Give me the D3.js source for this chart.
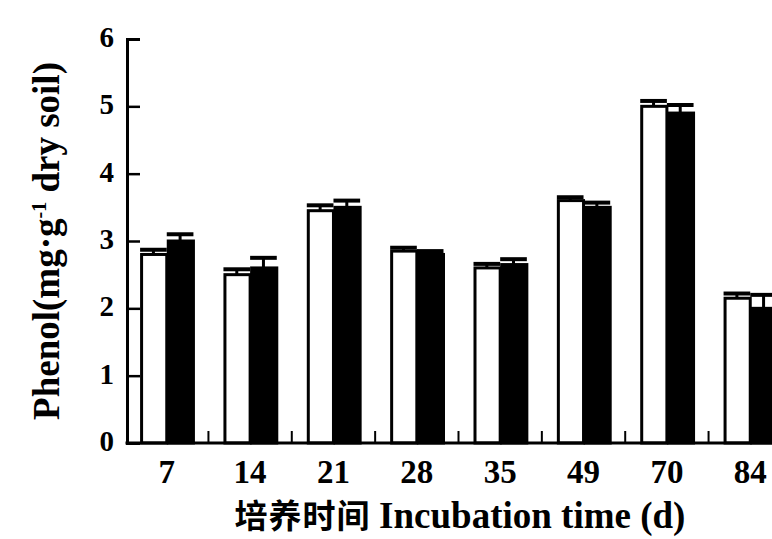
<!DOCTYPE html>
<html>
<head>
<meta charset="utf-8">
<script src="https://cdn.jsdelivr.net/npm/d3@7"></script>
<style>
  body { margin: 0; background: #fff; }
  svg text { font-family: 'Liberation Serif', 'DejaVu Serif', serif; font-weight: bold; fill: #000; }
</style>
</head>
<body>
<svg id="graph"></svg>
<script>
const days = ['7', '14', '21', '28', '35', '49', '70', '84']
const series = ['open', 'filled']
const openValues = [2.8, 2.5, 3.45, 2.85, 2.6, 3.6, 5.0, 2.15]
const openErrors = [0.07, 0.08, 0.08, 0.05, 0.06, 0.05, 0.08, 0.07]
const filledValues = [3.0, 2.6, 3.5, 2.8, 2.65, 3.5, 4.9, 2.0]
const filledErrors = [0.1, 0.15, 0.1, 0.05, 0.08, 0.07, 0.12, 0.2]
const yTicks = [0, 1, 2, 3, 4, 5, 6]

document.addEventListener('DOMContentLoaded', function () {
  const width = 772
  const height = 539
  const left = 127
  const top = 39
  const bottom = 443

  const svg = d3.select('#graph')
    .attr('width', width)
    .attr('height', height)

  const y = d3.scaleLinear().domain([0, 6]).range([bottom, top])

  const x = d3.scaleBand()
    .domain(days)
    .range([left, 790])
    .paddingInner(0.36)
    .paddingOuter(0.157)

  const xs = d3.scaleBand()
    .domain(series)
    .range([0, x.bandwidth()])

  const rows = days.map((d, i) => ({
    day: d,
    bars: [
      { key: 'open', value: openValues[i], err: openErrors[i] },
      { key: 'filled', value: filledValues[i], err: filledErrors[i] }
    ]
  }))

  const groups = svg.append('g')
    .selectAll('g')
    .data(rows)
    .enter()
    .append('g')
    .attr('transform', d => 'translate(' + x(d.day) + ',0)')

  // error bars first, the bars sit over the stem
  groups.selectAll('line.stem')
    .data(d => d.bars)
    .enter()
    .append('line')
    .attr('x1', d => xs(d.key) + xs.bandwidth() / 2)
    .attr('x2', d => xs(d.key) + xs.bandwidth() / 2)
    .attr('y1', d => y(d.value))
    .attr('y2', d => y(d.value + d.err))
    .attr('stroke', '#000')
    .attr('stroke-width', 3)

  groups.selectAll('line.cap')
    .data(d => d.bars)
    .enter()
    .append('line')
    .attr('x1', d => xs(d.key))
    .attr('x2', d => xs(d.key) + xs.bandwidth())
    .attr('y1', d => y(d.value + d.err))
    .attr('y2', d => y(d.value + d.err))
    .attr('stroke', '#000')
    .attr('stroke-width', 4)

  groups.selectAll('rect')
    .data(d => d.bars)
    .enter()
    .append('rect')
    .attr('x', d => xs(d.key) + 1.5)
    .attr('width', xs.bandwidth() - 1.5)
    .attr('y', d => y(d.value))
    .attr('height', d => y(0) - y(d.value))
    .attr('fill', d => d.key === 'open' ? '#fff' : '#000')
    .attr('stroke', '#000')
    .attr('stroke-width', 3)

  // small marks on the baseline between the groups
  svg.append('g')
    .selectAll('line')
    .data(days.slice(1))
    .enter()
    .append('line')
    .attr('x1', d => x(d) - x.step() * x.paddingInner() / 2)
    .attr('x2', d => x(d) - x.step() * x.paddingInner() / 2)
    .attr('y1', y(0))
    .attr('y2', y(0) - 12)
    .attr('stroke', '#000')
    .attr('stroke-width', 2)

  // y axis, ticks inward
  const yAxis = svg.append('g')
    .attr('transform', 'translate(' + left + ',0)')
    .call(d3.axisRight(y).tickValues(yTicks).tickSize(13).tickFormat(''))
  yAxis.select('.domain').attr('stroke-width', 3)
  yAxis.selectAll('.tick line').attr('stroke-width', 2.5)

  svg.append('g')
    .selectAll('text')
    .data(yTicks)
    .enter()
    .append('text')
    .attr('x', left - 13)
    .attr('y', d => y(d) + 8)
    .attr('text-anchor', 'end')
    .style('font-size', '29px')
    .text(d => d)

  // x axis line
  svg.append('line')
    .attr('x1', left - 1.5)
    .attr('x2', width)
    .attr('y1', y(0))
    .attr('y2', y(0))
    .attr('stroke', '#000')
    .attr('stroke-width', 3)

  svg.append('g')
    .selectAll('text')
    .data(days)
    .enter()
    .append('text')
    .attr('x', d => x(d) + x.bandwidth() / 2)
    .attr('y', bottom + 40)
    .attr('text-anchor', 'middle')
    .style('font-size', '33px')
    .text(d => d)

  const xTitle = svg.append('text')
    .attr('x', 460)
    .attr('y', 528)
    .attr('text-anchor', 'middle')
    .style('font-size', '37px')
  xTitle.append('tspan')
    .style('font-family', "'Noto Sans CJK SC', sans-serif")
    .style('font-size', '33px')
    .style('letter-spacing', '1px')
    .text('培养时间 ')
  xTitle.append('tspan').text('Incubation time (d)')

  const yTitle = svg.append('text')
    .attr('transform', 'translate(59,241) rotate(-90)')
    .attr('text-anchor', 'middle')
    .style('font-size', '37px')
  yTitle.append('tspan').text('Phenol(mg·g')
  yTitle.append('tspan').attr('dy', -13).style('font-size', '20px').text('-1')
  yTitle.append('tspan').attr('dy', 13).text(' dry soil)')
}, false)
</script>
</body>
</html>
